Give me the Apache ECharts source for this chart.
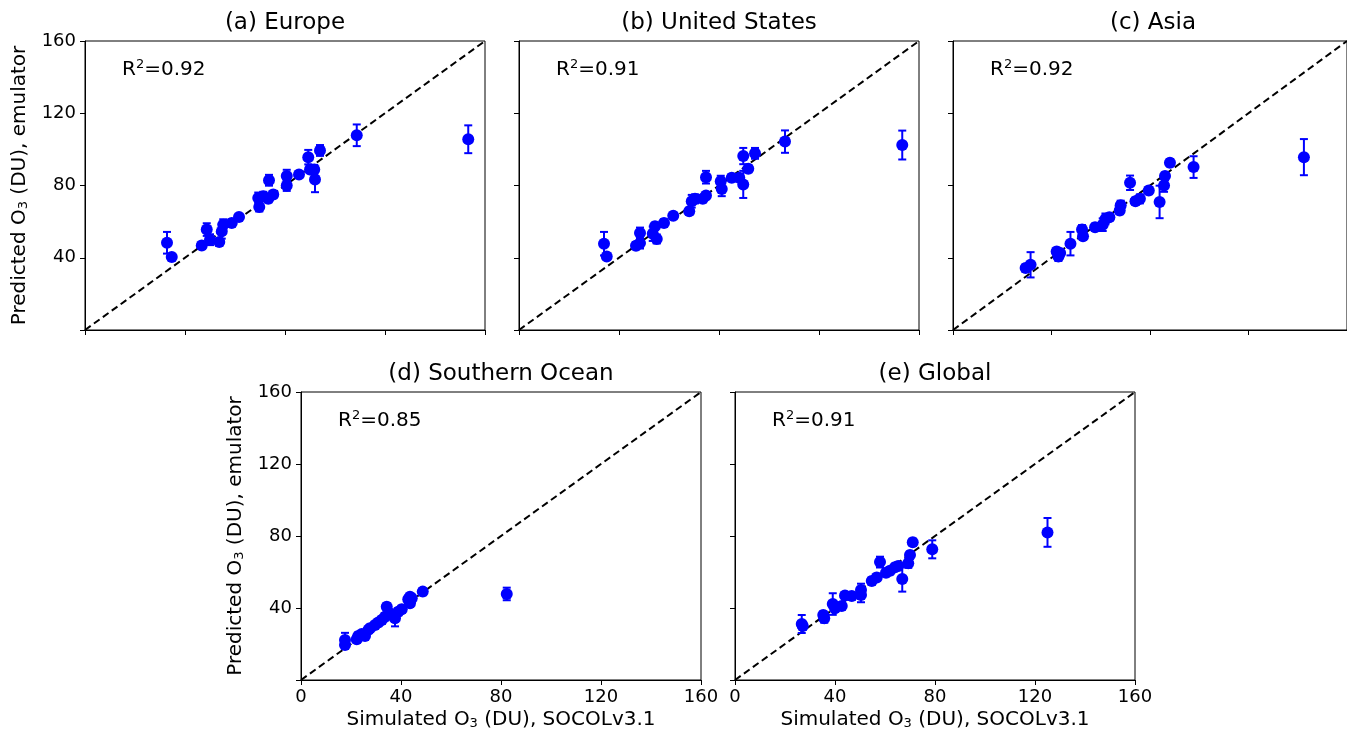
<!DOCTYPE html>
<html><head><meta charset="utf-8">
<script src="https://cdn.jsdelivr.net/npm/echarts@6/dist/echarts.min.js"></script>
<style>html,body{margin:0;padding:0;background:#fff}#c{width:1347px;height:734px}</style>
</head><body><div id="c"></div>
<script>
// ---- data (DU) ----
const axisTicks = [0, 40, 80, 120, 160];

const europeX = [32.8, 34.7, 46.7, 48.7, 50.0, 53.7, 54.7, 55.3, 58.7, 61.6, 69.7, 69.3, 71.3, 73.3, 73.6, 75.3, 80.7, 80.7, 85.6, 89.3, 90.0, 91.7, 92.0, 94.0, 108.7, 153.3];
const europeY = [48.3, 40.4, 46.8, 55.6, 50.0, 48.7, 54.6, 58.3, 59.3, 62.6, 68.1, 73.1, 74.0, 72.6, 82.9, 75.0, 85.2, 80.0, 86.1, 95.7, 88.9, 88.9, 83.3, 99.4, 107.8, 105.6];
const europeErr = [6, 1.5, 2, 3.5, 3, 2, 4, 3, 2, 1.5, 2.5, 3, 2.5, 2, 3, 2, 3.5, 3, 1.5, 4, 2, 2.5, 7, 3, 6, 7.7];

const usX = [34.0, 35.1, 46.8, 48.4, 48.4, 53.5, 55.1, 54.4, 58.0, 61.7, 68.1, 69.1, 70.4, 73.5, 74.8, 74.8, 80.7, 81.1, 85.1, 88.1, 89.7, 89.7, 91.7, 94.4, 106.4, 153.3];
const usY = [47.8, 40.7, 46.7, 48.1, 53.7, 53.3, 50.4, 57.4, 59.3, 63.3, 65.7, 71.3, 72.6, 72.6, 74.4, 84.6, 82.4, 78.1, 84.3, 84.3, 80.6, 96.3, 89.3, 97.8, 104.3, 102.4];
const usErr = [6.5, 1.5, 2, 3, 3, 4, 2.5, 2, 2, 1.5, 2, 3.5, 2.5, 2, 2, 3.5, 3, 4, 2, 2, 7.5, 4.5, 2, 3, 6.2, 8];

const asiaX = [29.5, 31.5, 42.1, 42.8, 43.5, 47.7, 52.4, 52.8, 57.7, 60.8, 61.9, 63.5, 67.7, 68.1, 71.9, 74.1, 75.9, 79.5, 83.9, 85.7, 86.1, 88.1, 97.7, 142.5];
const asiaY = [34.3, 36.1, 43.5, 40.7, 42.6, 47.8, 55.6, 51.9, 56.9, 58.3, 61.5, 62.4, 66.1, 69.1, 81.5, 71.3, 72.6, 77.2, 70.9, 80.0, 85.2, 92.6, 90.2, 95.7];
const asiaErr = [2, 7, 2, 2.5, 2, 6.5, 2.5, 2, 2, 3.5, 3, 2, 2, 2.5, 4, 2, 2.5, 2, 9, 3.5, 2, 2, 6, 10];

const soX = [17.6, 17.6, 22.3, 22.9, 24.3, 25.6, 27.0, 27.6, 29.6, 30.9, 32.3, 33.6, 34.3, 35.6, 37.6, 38.9, 40.3, 42.9, 43.6, 43.6, 44.3, 48.7, 82.3];
const soY = [19.4, 22.2, 22.6, 24.4, 25.6, 24.4, 27.9, 28.7, 30.6, 31.9, 33.3, 35.2, 40.7, 37.0, 34.3, 37.9, 39.3, 44.8, 42.6, 46.3, 45.4, 49.1, 47.8];
const soErr = [2, 4, 2, 2, 1.5, 2, 1.5, 2, 1.5, 2, 2, 2, 2, 2, 4.5, 2, 2, 2, 2, 1.5, 2, 2, 3.5];

const globalX = [26.7, 27.1, 35.3, 35.7, 39.1, 40.0, 42.7, 44.0, 46.7, 50.4, 50.4, 54.7, 56.7, 58.0, 60.4, 62.0, 64.0, 65.3, 66.9, 69.3, 70.0, 71.1, 78.9, 125.0];
const globalY = [31.1, 30.0, 36.1, 34.3, 42.2, 39.8, 41.1, 46.9, 46.7, 50.0, 47.2, 55.0, 57.0, 65.5, 59.6, 60.7, 62.6, 63.3, 56.1, 64.8, 69.4, 76.5, 72.6, 82.0];
const globalErr = [5, 2, 2, 2.5, 6, 2, 2, 2, 2, 3.5, 4, 2, 2, 3, 2, 2, 2, 2, 7, 2.5, 2, 2, 5, 8];

const titles = ['(a) Europe', '(b) United States', '(c) Asia', '(d) Southern Ocean', '(e) Global'];
const r2Values = ['0.92', '0.91', '0.92', '0.85', '0.91'];

// ---- layout ----
const FONT = 'DejaVu Sans';
const BLUE = '#0000ff';
const layouts = [
  { left: 85, top: 41, h: 289, xLab: false, yLab: true },
  { left: 519, top: 41, h: 289, xLab: false, yLab: false },
  { left: 953, top: 41, h: 289, xLab: false, yLab: false },
  { left: 301, top: 392, h: 288, xLab: true, yLab: true },
  { left: 735, top: 392, h: 288, xLab: true, yLab: false }
];
const W = 400;
const dataSets = [
  [europeX, europeY, europeErr],
  [usX, usY, usErr],
  [asiaX, asiaY, asiaErr],
  [soX, soY, soErr],
  [globalX, globalY, globalErr]
];

const subRich = {
  a: { fontSize: 20, fontFamily: FONT, color: '#000' },
  s: { fontSize: 13, fontFamily: FONT, color: '#000', verticalAlign: 'bottom' }
};

const grid = [], xAxis = [], yAxis = [], series = [], graphic = [];
layouts.forEach((L, i) => {
  grid.push({ left: L.left, top: L.top, width: W, height: L.h, show: true, borderColor: '#000', borderWidth: 1, backgroundColor: 'transparent', containLabel: false });
  xAxis.push({
    gridIndex: i, type: 'value', min: axisTicks[0], max: axisTicks[axisTicks.length - 1], interval: 40,
    splitLine: { show: false },
    axisLine: { show: true, onZero: false, lineStyle: { color: '#000', width: 1 } },
    axisTick: { show: true, inside: false, length: 5, lineStyle: { color: '#000', width: 1 } },
    axisLabel: { show: L.xLab, fontSize: 18, fontFamily: FONT, color: '#000', margin: 8 },
    name: L.xLab ? '{a|Simulated O}{s|3}{a| (DU), SOCOLv3.1}' : '',
    nameLocation: 'middle', nameGap: 30,
    nameTextStyle: { rich: subRich }
  });
  yAxis.push({
    gridIndex: i, type: 'value', min: axisTicks[0], max: axisTicks[axisTicks.length - 1], interval: 40,
    splitLine: { show: false },
    axisLine: { show: true, onZero: false, lineStyle: { color: '#000', width: 1 } },
    axisTick: { show: true, inside: false, length: 5, lineStyle: { color: '#000', width: 1 } },
    axisLabel: { show: L.yLab, fontSize: 18, fontFamily: FONT, color: '#000', margin: 9, formatter: v => v === 0 ? '' : String(v) },
    name: L.yLab ? '{a|Predicted O}{s|3}{a| (DU), emulator}' : '',
    nameLocation: 'middle', nameGap: 55, nameRotate: 90,
    nameTextStyle: { rich: subRich }
  });
  const [xs, ys, es] = dataSets[i];
  const pts = xs.map((x, k) => [x, ys[k], es[k]]);
  // 1:1 line
  series.push({
    type: 'line', xAxisIndex: i, yAxisIndex: i, data: [[0, 0], [160, 160]],
    symbol: 'none', silent: true, z: 1,
    lineStyle: { color: '#000', width: 2, type: [7, 4] }
  });
  // error bars
  series.push({
    type: 'custom', xAxisIndex: i, yAxisIndex: i, data: pts, z: 2,
    encode: { x: 0, y: 1 },
    renderItem: function (params, api) {
      const x = api.value(0), y = api.value(1), e = api.value(2);
      const t = api.coord([x, y + e]);
      const b = api.coord([x, y - e]);
      const st = { stroke: BLUE, lineWidth: 2 };
      return {
        type: 'group', children: [
          { type: 'line', shape: { x1: t[0], y1: t[1], x2: b[0], y2: b[1] }, style: st },
          { type: 'line', shape: { x1: t[0] - 4, y1: t[1], x2: t[0] + 4, y2: t[1] }, style: st },
          { type: 'line', shape: { x1: b[0] - 4, y1: b[1], x2: b[0] + 4, y2: b[1] }, style: st }
        ]
      };
    }
  });
  // markers
  series.push({
    type: 'scatter', xAxisIndex: i, yAxisIndex: i, data: pts.map(p => [p[0], p[1]]),
    symbol: 'circle', symbolSize: 12, z: 3,
    itemStyle: { color: BLUE, opacity: 1 }
  });
  graphic.push({
    type: 'text', x: L.left + W / 2, y: L.top - 18,
    style: { text: titles[i], fontSize: 23, fontFamily: FONT, fill: '#000', textAlign: 'center', textVerticalAlign: 'middle' }
  });
  graphic.push({
    type: 'text', x: L.left + 37, y: L.top + 29,
    style: {
      text: '{a|R}{s|2}{a|=' + r2Values[i] + '}', textVerticalAlign: 'middle',
      rich: {
        a: { fontSize: 20, fontFamily: FONT, fill: '#000', lineHeight: 24 },
        s: { fontSize: 13, fontFamily: FONT, fill: '#000', verticalAlign: 'top', lineHeight: 13 }
      }
    }
  });
});

const chart = echarts.init(document.getElementById('c'), null, { renderer: 'canvas' });
chart.setOption({
  animation: false,
  backgroundColor: '#fff',
  grid, xAxis, yAxis, series, graphic
});
</script></body></html>
